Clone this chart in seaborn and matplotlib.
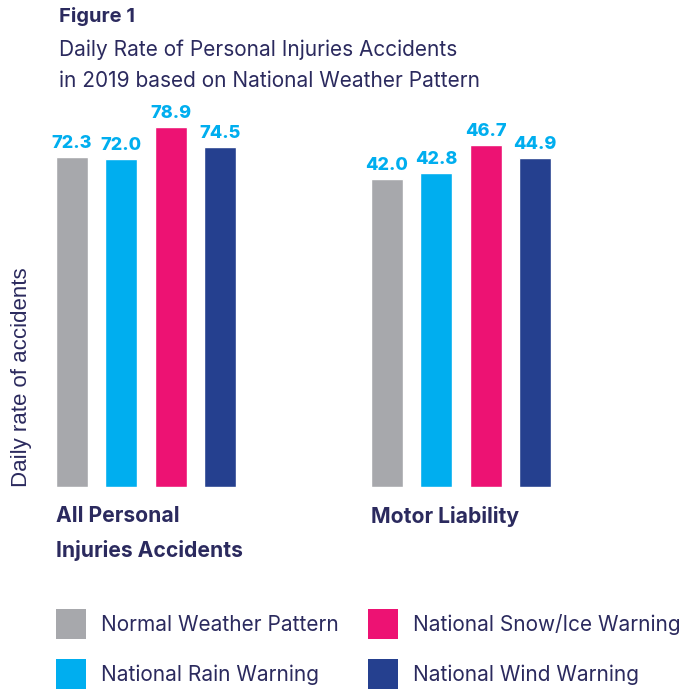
import seaborn as sns
import pandas as pd
import matplotlib.pyplot as plt
from matplotlib.patches import Patch

# values
patterns = ["Normal Weather Pattern", "National Rain Warning",
            "National Snow/Ice Warning", "National Wind Warning"]
all_personal = [72.3, 72.0, 78.9, 74.5]
motor_liability = [42.0, 42.8, 46.7, 44.9]
group_labels = ["All Personal\nInjuries Accidents", "Motor Liability"]
colors = ["#A7A8AC", "#00AEEF", "#ED1273", "#25408F"]

TXT = "#2B2A5E"
VAL = "#00AEEF"

sns.set_style("white")
plt.rcParams['font.family'] = ['Inter', 'DejaVu Sans']

fig = plt.figure(figsize=(6.99, 6.89), dpi=100)
W, H = 699, 689


def px_axes(x0, x1, top, bottom):
    return fig.add_axes([x0 / W, 1 - bottom / H, (x1 - x0) / W, (bottom - top) / H])


ax1 = px_axes(47, 245, 120, 487)
ax2 = px_axes(362, 560, 120, 487)

for ax, vals, ymax in [(ax1, all_personal, 367 / 4.56), (ax2, motor_liability, 367 / 7.33)]:
    df = pd.DataFrame({"pattern": patterns, "value": vals})
    sns.barplot(data=df, x="pattern", y="value", hue="pattern", palette=colors,
                width=0.65, legend=False, ax=ax, saturation=1)
    for c in ax.containers:
        ax.bar_label(c, fmt="%.1f", padding=3.5, color=VAL, fontsize=13,
                     fontweight="heavy")
    ax.set_xlim(-0.5, 3.5)
    ax.set_ylim(0, ymax)
    ax.set_axis_off()

# headings
fig.text(59 / W, 1 - 7 / H, "Figure 1", fontsize=14.5, fontweight="bold",
         color=TXT, va="top")
fig.text(59 / W, 1 - 39 / H,
         "Daily Rate of Personal Injuries Accidents\nin 2019 based on National Weather Pattern",
         fontsize=15, color=TXT, va="top", linespacing=1.7)

# y label
fig.text(22 / W, 1 - 377 / H, "Daily rate of accidents", rotation=90,
         fontsize=16, color=TXT, ha="center", va="center",
         family=["Liberation Sans", "DejaVu Sans"])

# group labels
fig.text(56 / W, 1 - 506 / H, group_labels[0], fontsize=15.2, fontweight="bold",
         color=TXT, va="top", linespacing=1.8)
fig.text(371 / W, 1 - 506 / H, group_labels[1], fontsize=15.2, fontweight="bold",
         color=TXT, va="top")

handles = [Patch(facecolor=c, edgecolor="none") for c in colors]
fig.legend(handles, patterns, loc="upper left", bbox_to_anchor=(56 / W, 1 - 609 / H),
           ncol=2, frameon=False, fontsize=15, labelcolor=TXT,
           handlelength=1.44, handleheight=1.84, handletextpad=0.72,
           labelspacing=0.96, columnspacing=1.4, borderpad=0, borderaxespad=0)

fig.savefig("out.png", dpi=100)
